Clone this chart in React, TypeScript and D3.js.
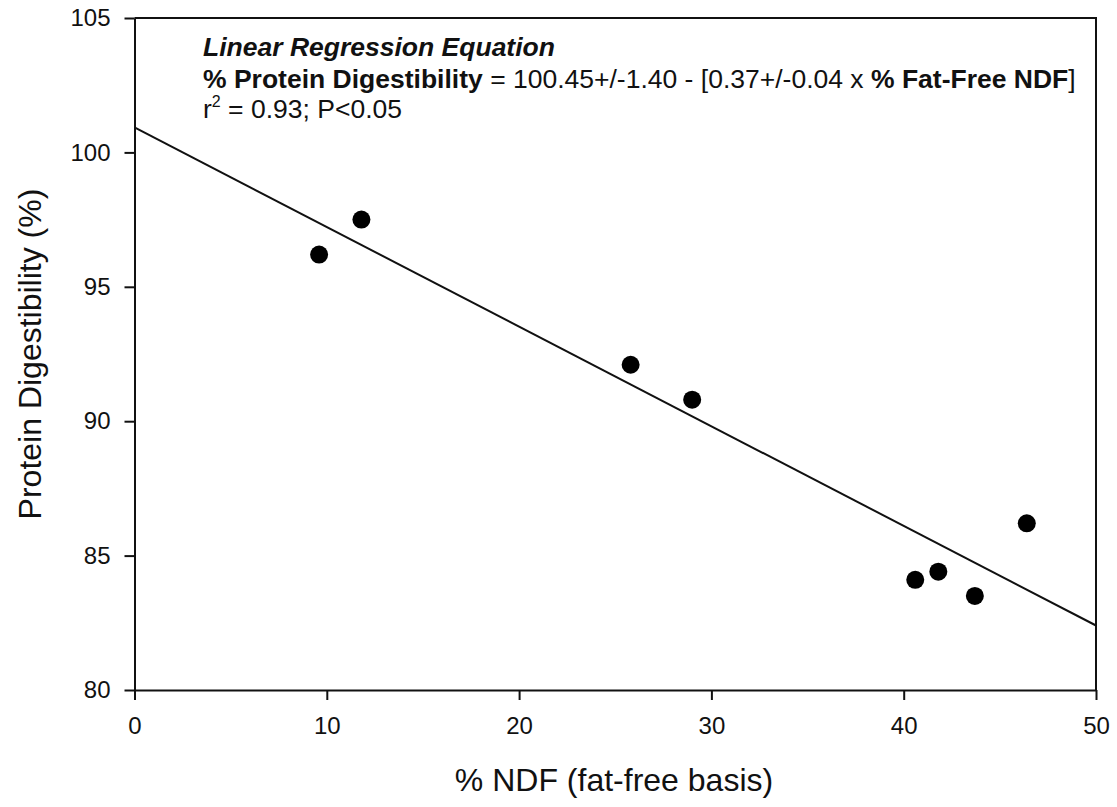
import React, { useEffect, useRef } from "react";
import * as d3 from "d3";

// measured points
const ndf = [9.6, 11.8, 25.8, 29.0, 40.6, 41.8, 43.7, 46.4];
const digest = [96.2, 97.5, 92.1, 90.8, 84.1, 84.4, 83.5, 86.2];

// fitted line as drawn in the figure
const fitX = [0, 50];
const fitY = [100.93, 82.4];

const xTicks = [0, 10, 20, 30, 40, 50];
const yTicks = [80, 85, 90, 95, 100, 105];

const W = 1117;
const H = 807;
const margin = { top: 18, right: 21, bottom: 117, left: 134.5 };
const FONT = "Arial, 'Liberation Sans', Helvetica, sans-serif";

export default function App() {
  const svgRef = useRef<SVGSVGElement>(null);

  useEffect(() => {
    document.body.style.margin = "0";
    const svg = d3.select(svgRef.current);
    svg.selectAll("*").remove();

    const x = d3
      .scaleLinear()
      .domain([0, 50])
      .range([margin.left, W - margin.right]);
    const y = d3
      .scaleLinear()
      .domain([80, 105])
      .range([H - margin.bottom, margin.top]);

    // frame (top + right)
    svg
      .append("path")
      .attr("d", `M${x(0)},${y(105)}H${x(50)}V${y(80)}`)
      .attr("fill", "none")
      .attr("stroke", "#111")
      .attr("stroke-width", 2);

    // x axis
    const gx = svg
      .append("g")
      .attr("transform", `translate(0,${y(80)})`)
      .call(
        d3
          .axisBottom(x)
          .tickValues(xTicks)
          .tickSize(10)
          .tickSizeOuter(0)
          .tickPadding(17)
      );
    gx.select(".domain").attr("stroke", "#111").attr("stroke-width", 2);
    gx.selectAll(".tick line").attr("stroke", "#111").attr("stroke-width", 2);
    gx.selectAll(".tick text")
      .attr("font-family", FONT)
      .attr("font-size", 24)
      .attr("fill", "#111");

    // y axis
    const gy = svg
      .append("g")
      .attr("transform", `translate(${x(0)},0)`)
      .call(
        d3
          .axisLeft(y)
          .tickValues(yTicks)
          .tickSize(10)
          .tickSizeOuter(0)
          .tickPadding(14)
      );
    gy.select(".domain").attr("stroke", "#111").attr("stroke-width", 2);
    gy.selectAll(".tick line").attr("stroke", "#111").attr("stroke-width", 2);
    gy.selectAll(".tick text")
      .attr("font-family", FONT)
      .attr("font-size", 24)
      .attr("fill", "#111");

    // axis titles
    svg
      .append("text")
      .attr("x", 614)
      .attr("y", 791)
      .attr("text-anchor", "middle")
      .attr("font-family", FONT)
      .attr("font-size", 32)
      .attr("fill", "#111")
      .text("% NDF (fat-free basis)");

    svg
      .append("text")
      .attr("transform", `translate(41,${y(92.5)}) rotate(-90)`)
      .attr("text-anchor", "middle")
      .attr("font-family", FONT)
      .attr("font-size", 32)
      .attr("fill", "#111")
      .text("Protein Digestibility (%)");

    // regression line
    const line = d3
      .line<number>()
      .x((d) => x(d))
      .y((_, i) => y(fitY[i]));
    svg
      .append("path")
      .datum(fitX)
      .attr("d", line)
      .attr("fill", "none")
      .attr("stroke", "#111")
      .attr("stroke-width", 2);

    // points
    svg
      .append("g")
      .selectAll("circle")
      .data(ndf)
      .join("circle")
      .attr("cx", (d) => x(d))
      .attr("cy", (_, i) => y(digest[i]))
      .attr("r", 9)
      .attr("fill", "#000");

    // annotation
    const ann = svg
      .append("g")
      .attr("font-family", FONT)
      .attr("font-size", 26.5)
      .attr("fill", "#111");
    ann
      .append("text")
      .attr("x", 203)
      .attr("y", 56)
      .attr("font-weight", "bold")
      .attr("font-style", "italic")
      .text("Linear Regression Equation");

    const eq = ann.append("text").attr("x", 203).attr("y", 88);
    eq.append("tspan").attr("font-weight", "bold").text("% Protein Digestibility");
    eq.append("tspan").text(" = 100.45+/-1.40 - [0.37+/-0.04 x ");
    eq.append("tspan").attr("font-weight", "bold").text("% Fat-Free NDF");
    eq.append("tspan").text("]");

    const r2 = ann.append("text").attr("x", 203).attr("y", 118);
    r2.append("tspan").text("r");
    r2.append("tspan").attr("font-size", 16).attr("dy", -11).text("2");
    r2.append("tspan").attr("dy", 11).text(" = 0.93; P<0.05");
  }, []);

  return <svg ref={svgRef} width={W} height={H} style={{ display: "block", background: "#fff" }} />;
}
